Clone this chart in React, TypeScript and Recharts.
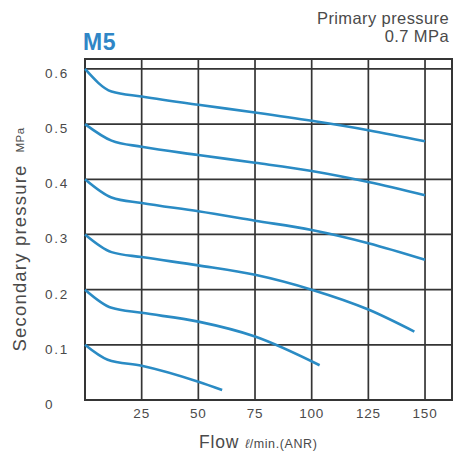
import React from "react";
import {
  LineChart,
  Line,
  XAxis,
  YAxis,
  CartesianGrid,
  ReferenceArea,
} from "recharts";

// flow (l/min ANR) and secondary pressure (MPa) for each set pressure
const flow60 = [0, 11.7, 25, 50, 75, 100, 125, 150];
const press60 = [0.6, 0.559, 0.55, 0.535, 0.521, 0.506, 0.489, 0.469];

const flow50 = [0, 11.7, 25, 50, 75, 100, 125, 150];
const press50 = [0.5, 0.47, 0.459, 0.444, 0.43, 0.415, 0.395, 0.371];

const flow40 = [0, 11.7, 25, 50, 75, 100, 125, 150];
const press40 = [0.4, 0.367, 0.357, 0.342, 0.325, 0.308, 0.284, 0.254];

const flow30 = [0, 11.7, 25, 50, 75, 100, 125, 145.3];
const press30 = [0.3, 0.268, 0.259, 0.244, 0.227, 0.2, 0.164, 0.124];

const flow20 = [0, 11.7, 25, 50, 75, 103.5];
const press20 = [0.2, 0.167, 0.158, 0.142, 0.115, 0.063];

const flow10 = [0, 10, 25, 50, 60.5];
const press10 = [0.1, 0.073, 0.062, 0.033, 0.018];

const xTicks = [25, 50, 75, 100, 125, 150];
const yTicks = [0, 0.1, 0.2, 0.3, 0.4, 0.5, 0.6];

const X_MAX = 161.9;
const Y_MAX = 0.618;

const toPoints = (xs: number[], ys: number[]) =>
  xs.map((x, i) => ({ flow: x, pressure: ys[i] }));

const curves = [
  toPoints(flow60, press60),
  toPoints(flow50, press50),
  toPoints(flow40, press40),
  toPoints(flow30, press30),
  toPoints(flow20, press20),
  toPoints(flow10, press10),
];

const FONT = "'Liberation Sans', Arial, sans-serif";
const LINE_COLOR = "#2a8bc4";
const GRID_COLOR = "#353535";
const TEXT_COLOR = "#4a4a4a";

const YTick = (props: any) => {
  const { y, payload } = props;
  return (
    <text
      x={45}
      y={y + 9}
      fontSize={13.5}
      letterSpacing={1.8}
      fill={TEXT_COLOR}
      fontFamily={FONT}
    >
      {payload.value === 0 ? "0" : payload.value.toFixed(1)}
    </text>
  );
};

const XTick = (props: any) => {
  const { x, payload } = props;
  return (
    <text
      x={x}
      y={418}
      fontSize={13.5}
      letterSpacing={0.8}
      fill={TEXT_COLOR}
      fontFamily={FONT}
      textAnchor="middle"
    >
      {payload.value}
    </text>
  );
};

export default function App() {
  return (
    <div style={{ position: "absolute", left: 0, top: 0, width: 456, height: 458, background: "#fff" }}>
      <LineChart
        width={456}
        height={458}
        margin={{ top: 59, right: 4, left: 0, bottom: 0 }}
      >
        <CartesianGrid stroke={GRID_COLOR} strokeWidth={1.7} />
        <XAxis
          dataKey="flow"
          type="number"
          domain={[0, X_MAX]}
          ticks={xTicks}
          allowDuplicatedCategory={false}
          height={58}
          axisLine={false}
          tickLine={false}
          tick={<XTick />}
        />
        <YAxis
          type="number"
          domain={[0, Y_MAX]}
          ticks={yTicks}
          width={85}
          axisLine={false}
          tickLine={false}
          tick={<YTick />}
        />
        <ReferenceArea
          x1={0}
          x2={X_MAX}
          y1={0}
          y2={Y_MAX}
          fill="none"
          stroke={GRID_COLOR}
          strokeWidth={2}
          ifOverflow="visible"
        />
        {curves.map((pts, i) => (
          <Line
            key={i}
            data={pts}
            dataKey="pressure"
            type="monotone"
            stroke={LINE_COLOR}
            strokeWidth={2.6}
            dot={false}
            activeDot={false}
            isAnimationActive={false}
          />
        ))}
      </LineChart>
      <svg
        width={456}
        height={458}
        style={{ position: "absolute", left: 0, top: 0, pointerEvents: "none" }}
      >
        <text x={449} y={24} textAnchor="end" fontSize={16.5} letterSpacing={0.4} fill={TEXT_COLOR} fontFamily={FONT}>
          Primary pressure
        </text>
        <text x={449} y={42} textAnchor="end" fontSize={16.5} letterSpacing={0.4} fill={TEXT_COLOR} fontFamily={FONT}>
          0.7 MPa
        </text>
        <text x={83} y={50} fontSize={23} fontWeight="bold" letterSpacing={0.5} fill="#2f86c6" fontFamily={FONT}>
          M5
        </text>
        <text
          transform="translate(26, 258) rotate(-90)"
          textAnchor="middle"
          fontSize={18.5}
          letterSpacing={1.2}
          fill={TEXT_COLOR}
          fontFamily={FONT}
        >
          Secondary pressure
        </text>
        <text
          transform="translate(24, 140) rotate(-90)"
          textAnchor="middle"
          fontSize={11.5}
          letterSpacing={0.5}
          fill={TEXT_COLOR}
          fontFamily={FONT}
        >
          MPa
        </text>
        <text x={199} y={448} fontSize={17.5} letterSpacing={0.8} fill={TEXT_COLOR} fontFamily={FONT}>
          Flow
        </text>
        <text x={245} y={448} fontSize={12.5} letterSpacing={0.6} fill={TEXT_COLOR} fontFamily={FONT}>
          <tspan fontStyle="italic">ℓ</tspan>/min.(ANR)
        </text>
      </svg>
    </div>
  );
}
